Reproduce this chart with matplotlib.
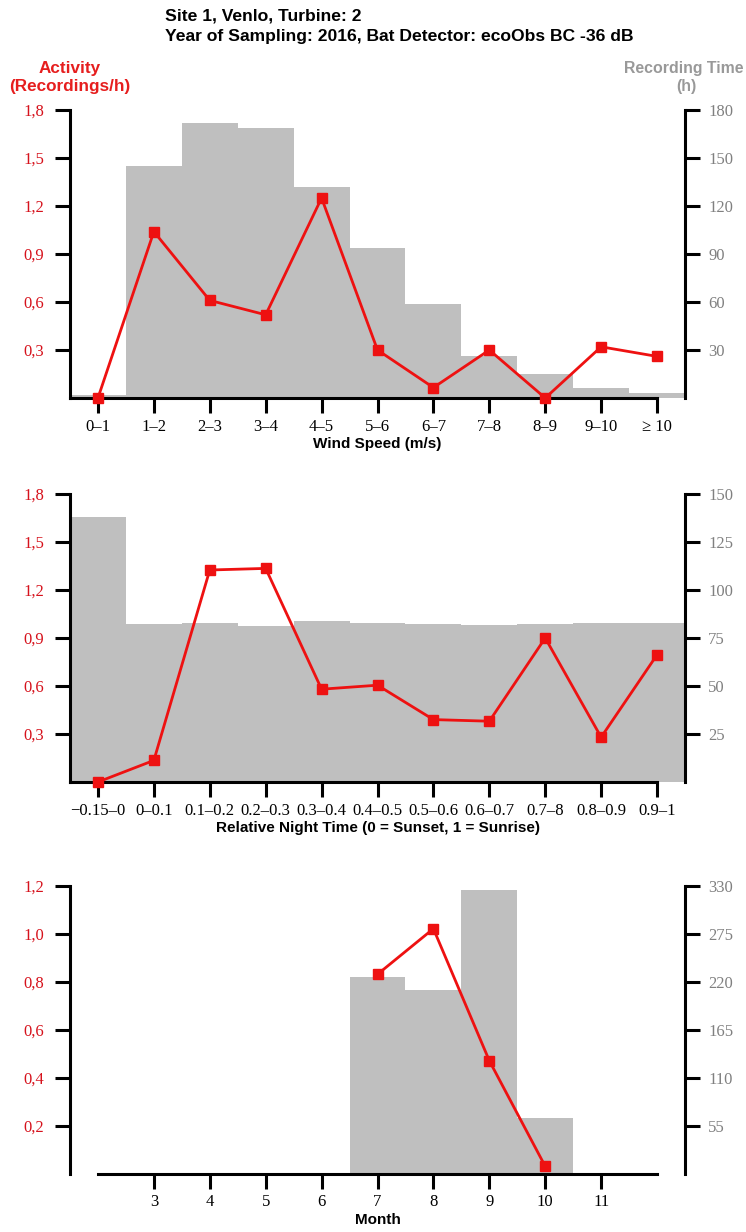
import matplotlib
matplotlib.use("Agg")
import matplotlib.pyplot as plt
from matplotlib.ticker import FixedLocator, FixedFormatter

# ---- data -------------------------------------------------------------
wind_labels = ["0–1", "1–2", "2–3", "3–4", "4–5", "5–6", "6–7", "7–8",
               "8–9", "9–10", "≥ 10"]
wind_activity = [0.0, 1.04, 0.61, 0.52, 1.25, 0.30, 0.065, 0.30, 0.0, 0.32, 0.26]
wind_hours = [2, 145, 172, 169, 132, 94, 59, 26, 15, 6, 3]

night_labels = ["−0.15–0", "0–0.1", "0.1–0.2", "0.2–0.3", "0.3–0.4", "0.4–0.5",
                "0.5–0.6", "0.6–0.7", "0.7–8", "0.8–0.9", "0.9–1"]
night_activity = [0.0, 0.135, 1.325, 1.335, 0.58, 0.605, 0.39, 0.38, 0.90, 0.28, 0.795]
night_hours = [138, 82.5, 83, 81.5, 84, 83, 82.5, 82, 82.5, 83, 83]

month_ticks = [3, 4, 5, 6, 7, 8, 9, 10, 11]
month_obs = [7, 8, 9, 10]
month_activity = [0.83, 1.02, 0.47, 0.03]
month_hours = [225, 210, 325, 64]

act_ticks_a = [0.3, 0.6, 0.9, 1.2, 1.5, 1.8]
act_labels_a = ["0,3", "0,6", "0,9", "1,2", "1,5", "1,8"]
act_ticks_c = [0.2, 0.4, 0.6, 0.8, 1.0, 1.2]
act_labels_c = ["0,2", "0,4", "0,6", "0,8", "1,0", "1,2"]
hour_ticks_1 = [30, 60, 90, 120, 150, 180]
hour_ticks_2 = [25, 50, 75, 100, 125, 150]
hour_ticks_3 = [55, 110, 165, 220, 275, 330]

# ---- style ------------------------------------------------------------
RED_LINE = "#ee1111"
RED_TEXT = "#d6121c"
GRAY_BAR = "#bfbfbf"
GRAY_TEXT = "#808080"
GRAY_LABEL = "#999999"
SERIF = ["Liberation Serif", "DejaVu Serif"]
SANS = ["Liberation Sans", "DejaVu Sans"]
SPINE_W = 2.2
TICK_LEN = 10.8
TICK_W = 2.2

W, H = 746, 1232
fig = plt.figure(figsize=(W / 100, H / 100), dpi=100)


def panel(top_px, x, x_labels, activity, hours, act_max, act_ticks, act_labels,
          hour_max, hour_ticks, xlabel, xlim, x_bounds, tick_x=None):
    left_px, right_px, height_px = 70, 685, 288
    rect = [left_px / W, 1 - (top_px + height_px) / H,
            (right_px - left_px) / W, height_px / H]
    ax = fig.add_axes(rect)
    axr = ax.twinx()

    # recording time as grey bars on the right-hand scale
    axr.bar(x, hours, width=1.0, color=GRAY_BAR, linewidth=0, zorder=1)
    axr.set_ylim(0, hour_max)

    # activity as red line with square markers on the left-hand scale
    ax.plot(x, activity, color=RED_LINE, lw=2.0, marker="s", ms=6.5,
            mec=RED_LINE, mfc=RED_LINE, clip_on=False, zorder=5)
    ax.set_ylim(0, act_max)
    ax.set_xlim(*xlim)
    axr.set_xlim(*xlim)

    ax.set_zorder(axr.get_zorder() + 1)
    ax.patch.set_visible(False)

    for a in (ax, axr):
        for s in a.spines.values():
            s.set_visible(False)
    ax.spines["left"].set_visible(True)
    ax.spines["left"].set_linewidth(SPINE_W)
    ax.spines["bottom"].set_visible(True)
    ax.spines["bottom"].set_linewidth(SPINE_W)
    ax.spines["bottom"].set_bounds(*x_bounds)
    axr.spines["right"].set_visible(True)
    axr.spines["right"].set_linewidth(SPINE_W)

    ax.yaxis.set_major_locator(FixedLocator(act_ticks))
    ax.yaxis.set_major_formatter(FixedFormatter(act_labels))
    ax.tick_params(axis="y", direction="out", length=TICK_LEN, width=TICK_W,
                   pad=8, labelsize=12, labelcolor=RED_TEXT)
    for t in ax.get_yticklabels():
        t.set_fontfamily(SERIF)

    axr.yaxis.set_major_locator(FixedLocator(hour_ticks))
    axr.yaxis.set_major_formatter(FixedFormatter([str(v) for v in hour_ticks]))
    axr.tick_params(axis="y", direction="out", length=TICK_LEN, width=TICK_W,
                    pad=6, labelsize=12, labelcolor=GRAY_TEXT)
    for t in axr.get_yticklabels():
        t.set_fontfamily(SERIF)

    tx = x if tick_x is None else tick_x
    ax.xaxis.set_major_locator(FixedLocator(tx))
    ax.xaxis.set_major_formatter(FixedFormatter(x_labels))
    ax.tick_params(axis="x", direction="out", length=TICK_LEN, width=TICK_W,
                   pad=4, labelsize=12, labelcolor="black")
    for t in ax.get_xticklabels():
        t.set_fontfamily(SERIF)
    ax.set_xlabel(xlabel, fontsize=11, fontweight="bold", family=SANS,
                  labelpad=2)
    return ax, axr


xs = list(range(len(wind_labels)))
panel(110, xs, wind_labels, wind_activity, wind_hours, 1.8, act_ticks_a,
      act_labels_a, 180, hour_ticks_1, "Wind Speed (m/s)", (-0.5, 10.5),
      (-0.5, 10))

xs2 = list(range(len(night_labels)))
panel(494, xs2, night_labels, night_activity, night_hours, 1.8, act_ticks_a,
      act_labels_a, 150, hour_ticks_2,
      "Relative Night Time (0 = Sunset, 1 = Sunrise)", (-0.5, 10.5), (-0.5, 10))

panel(885.5, month_obs, [str(m) for m in month_ticks], month_activity,
      month_hours, 1.2, act_ticks_c, act_labels_c, 330, hour_ticks_3, "Month",
      (1.5, 12.5), (2, 12), tick_x=month_ticks)

# ---- header texts -----------------------------------------------------
HEAD = 12.6
fig.text(165 / W, 1 - 16 / H, "Site 1, Venlo, Turbine: 2", ha="left",
         va="center", fontsize=HEAD, fontweight="bold", family=SANS)
fig.text(165 / W, 1 - 36 / H,
         "Year of Sampling: 2016, Bat Detector: ecoObs BC -36 dB", ha="left",
         va="center", fontsize=HEAD, fontweight="bold", family=SANS)

AX_HEAD = 12.3
fig.text(70 / W, 1 - 68 / H, "Activity", ha="center", va="center",
         fontsize=AX_HEAD, fontweight="bold", family=SANS, color="#e61e1e")
fig.text(70 / W, 1 - 87 / H, "(Recordings/h)", ha="center", va="center",
         fontsize=AX_HEAD, fontweight="bold", family=SANS, color="#e61e1e")
fig.text(743 / W, 1 - 68 / H, "Recording Time", ha="right", va="center",
         fontsize=11.4, fontweight="bold", family=SANS, color=GRAY_LABEL)
fig.text(686 / W, 1 - 87 / H, "(h)", ha="center", va="center",
         fontsize=11.4, fontweight="bold", family=SANS, color=GRAY_LABEL)

fig.savefig("out.png", dpi=100)
